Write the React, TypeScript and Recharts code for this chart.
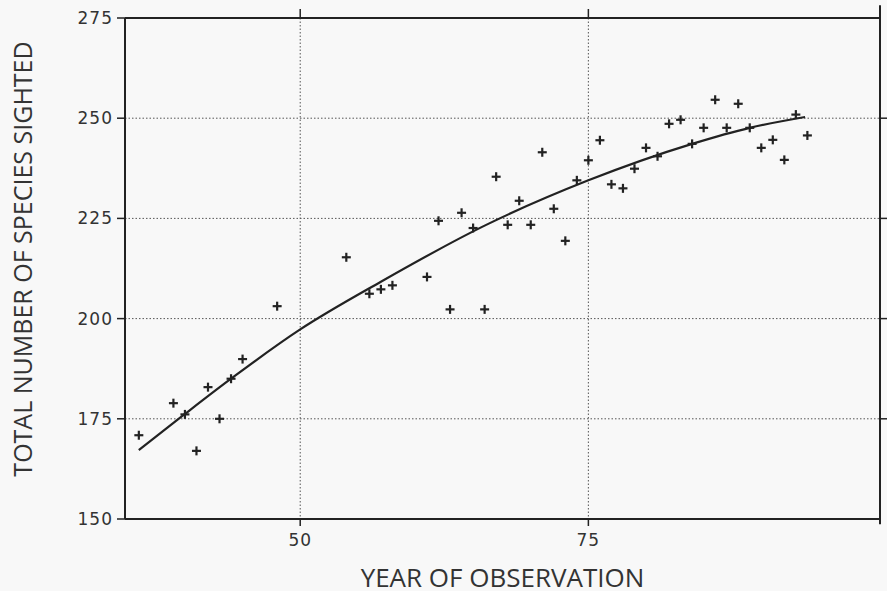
import React from 'react';
import {
  ComposedChart,
  Line,
  Scatter,
  XAxis,
  YAxis,
  CartesianGrid,
  ReferenceLine,
} from 'recharts';

// observed counts, one per year
const years = [36, 39, 40, 41, 42, 43, 44, 45, 48, 54, 56, 57, 58, 61, 62, 63, 64, 65, 66, 67, 68, 69, 70, 71, 72, 73, 74, 75, 76, 77, 78, 79, 80, 81, 82, 83, 84, 85, 86, 87, 88, 89, 90, 91, 92, 93, 94];
const species = [170.9, 178.9, 176.1, 167, 182.9, 175, 185, 189.9, 203.1, 215.3, 206.2, 207.3, 208.3, 210.4, 224.4, 202.3, 226.4, 222.6, 202.3, 235.4, 223.4, 229.4, 223.4, 241.5, 227.4, 219.4, 234.5, 239.5, 244.5, 233.5, 232.5, 237.4, 242.6, 240.5, 248.6, 249.6, 243.6, 247.6, 254.6, 247.6, 253.6, 247.6, 242.6, 244.6, 239.6, 250.9, 245.7];

// fitted curve
const fitYears = [36, 40, 44, 50, 57, 66, 75, 84, 89, 93.8];
const fitValues = [167.2, 176.2, 185.0, 197.3, 209.2, 223.2, 234.5, 243.6, 247.6, 250.3];

const xTicks = [50, 75];
const yTicks = [150, 175, 200, 225, 250, 275];
const rightTicks = [175, 200, 225, 250];

const X_DOMAIN: [number, number] = [34.8, 100.3];
const Y_DOMAIN: [number, number] = [150, 275];

const points = years.map((x, i) => ({ x, y: species[i] }));
const fit = fitYears.map((x, i) => ({ x, y: fitValues[i] }));

const INK = '#222';
const TICK_FONT = { fontFamily: 'DejaVu Sans', fontSize: 17, fill: '#333', letterSpacing: 1 };
const TITLE_FONT = { fontFamily: 'Open Sans', fontSize: 26, fill: '#333' };

const Cross = (props: any) => {
  const { cx, cy } = props;
  if (cx == null || cy == null) return null;
  return (
    <g stroke={INK} strokeWidth={2.2}>
      <line x1={cx - 4.5} y1={cy} x2={cx + 4.5} y2={cy} />
      <line x1={cx} y1={cy - 4.5} x2={cx} y2={cy + 4.5} />
    </g>
  );
};

const NoLabel = () => <g />;

export default function App() {
  return (
    <div style={{ position: 'absolute', left: 0, top: 0, width: 887, height: 591, background: '#f8f8f8' }}>
      <ComposedChart width={887} height={591} margin={{ top: 0, right: 0, bottom: 0, left: 0 }}>
        <CartesianGrid stroke="#555" strokeDasharray="1.5 2" strokeWidth={1} />
        <XAxis
          dataKey="x"
          type="number"
          domain={X_DOMAIN}
          ticks={xTicks}
          allowDataOverflow
          height={72}
          axisLine={{ stroke: INK, strokeWidth: 2 }}
          tickLine={{ stroke: INK, strokeWidth: 1.5 }}
          tickSize={7}
          tickMargin={8}
          tick={TICK_FONT}
          label={{ value: 'YEAR OF OBSERVATION', position: 'insideBottom', offset: 4, style: TITLE_FONT }}
        />
        <XAxis
          xAxisId="top"
          orientation="top"
          dataKey="x"
          type="number"
          domain={X_DOMAIN}
          ticks={xTicks}
          allowDataOverflow
          height={18}
          axisLine={{ stroke: INK, strokeWidth: 2 }}
          tickLine={{ stroke: INK, strokeWidth: 1.5 }}
          tickSize={9}
          tick={NoLabel}
        />
        <YAxis
          type="number"
          domain={Y_DOMAIN}
          ticks={yTicks}
          allowDataOverflow
          width={125}
          axisLine={{ stroke: INK, strokeWidth: 2 }}
          tickLine={{ stroke: INK, strokeWidth: 1.5 }}
          tickSize={8}
          tickMargin={4}
          tick={TICK_FONT}
        />
        <YAxis
          yAxisId="right"
          orientation="right"
          type="number"
          domain={Y_DOMAIN}
          ticks={rightTicks}
          allowDataOverflow
          width={7}
          axisLine={{ stroke: INK, strokeWidth: 2 }}
          tickLine={{ stroke: INK, strokeWidth: 1.5 }}
          tickSize={7}
          tick={NoLabel}
        />
        <ReferenceLine
          ifOverflow="visible"
          segment={[{ x: X_DOMAIN[1], y: 148.7 }, { x: X_DOMAIN[1], y: 278.2 }]}
          stroke={INK}
          strokeWidth={2}
        />
        <Scatter data={points} dataKey="y" shape={<Cross />} isAnimationActive={false} />
        <Line
          data={fit}
          dataKey="y"
          type="monotone"
          stroke={INK}
          strokeWidth={2.2}
          dot={false}
          activeDot={false}
          isAnimationActive={false}
        />
      </ComposedChart>
      <div
        style={{
          position: 'absolute',
          left: 22,
          top: 259,
          transform: 'translate(-50%, -50%) rotate(-90deg)',
          whiteSpace: 'nowrap',
          fontFamily: 'Open Sans',
          fontSize: 25,
          lineHeight: 1,
          color: '#333',
        }}
      >
        TOTAL NUMBER OF SPECIES SIGHTED
      </div>
    </div>
  );
}
